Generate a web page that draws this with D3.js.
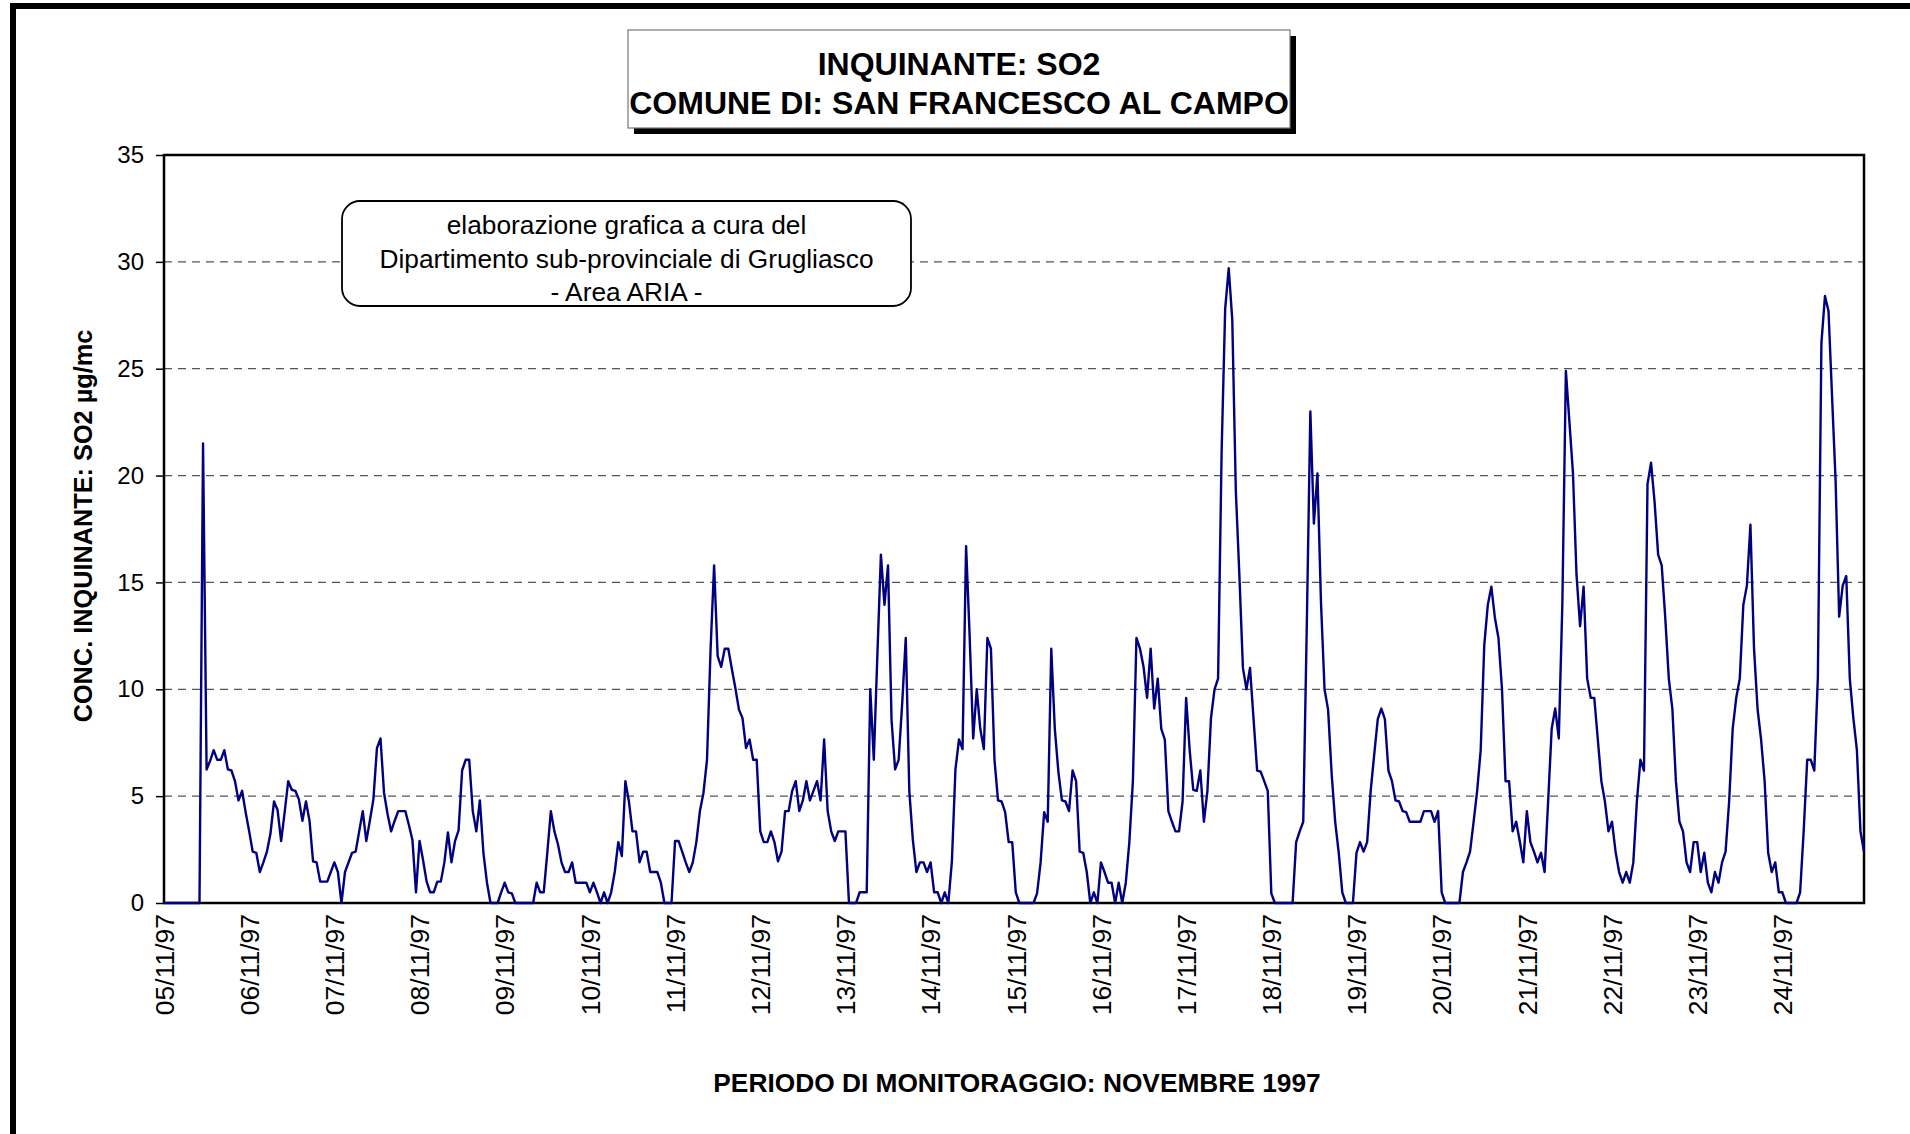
<!DOCTYPE html>
<html>
<head>
<meta charset="utf-8">
<script src="https://cdn.jsdelivr.net/npm/d3@7"></script>
<style>
  html, body { margin: 0; padding: 0; background: #fff; }
  svg text { font-family: "Liberation Sans", Arial, sans-serif; }
</style>
</head>
<body>
<div class="chart"></div>
<script>
"use strict";

// one label per day (tick every 24 hourly samples)
const dayLabels = ["05/11/97", "06/11/97", "07/11/97", "08/11/97", "09/11/97",
  "10/11/97", "11/11/97", "12/11/97", "13/11/97", "14/11/97", "15/11/97",
  "16/11/97", "17/11/97", "18/11/97", "19/11/97", "20/11/97", "21/11/97",
  "22/11/97", "23/11/97", "24/11/97"];

const yTicks = [0, 5, 10, 15, 20, 25, 30, 35];
const gridValues = [5, 10, 15, 20, 25, 30];

// hourly SO2, one row per day (µg/mc)
const so2 = [
  0,0,0,0,0,0,0,0,0,0,0,21.5,6.25,6.65,7.15,6.7,6.7,7.15,6.25,6.2,5.7,4.8,5.25,4.25,
  3.35,2.4,2.35,1.45,1.9,2.4,3.25,4.75,4.35,2.9,4.25,5.7,5.3,5.25,4.85,3.85,4.75,3.85,1.95,1.9,1.0,1.0,1.0,1.45,
  1.9,1.45,0,1.45,1.9,2.35,2.4,3.35,4.3,2.9,3.85,4.85,7.25,7.7,5.15,4.15,3.35,3.85,4.3,4.3,4.3,3.65,2.95,0.5,
  2.9,2.0,1.0,0.5,0.5,1.0,1.0,1.9,3.3,1.9,2.9,3.4,6.2,6.7,6.7,4.3,3.35,4.8,2.35,0.95,0,0,0,0.5,
  0.95,0.5,0.45,0,0,0,0,0,0,0.95,0.5,0.5,2.35,4.3,3.35,2.75,1.9,1.45,1.45,1.9,0.95,0.95,0.95,0.95,
  0.5,0.95,0.5,0,0.5,0,0.5,1.45,2.85,2.2,5.7,4.75,3.35,3.35,1.9,2.4,2.4,1.45,1.45,1.45,0.95,0,0,0,
  2.9,2.9,2.4,1.9,1.45,1.9,2.85,4.3,5.15,6.7,11.85,15.8,11.55,11.05,11.9,11.9,10.95,10.05,9.05,8.65,7.25,7.65,6.7,6.7,
  3.35,2.85,2.85,3.35,2.85,1.95,2.4,4.3,4.3,5.25,5.7,4.3,4.8,5.7,4.8,5.25,5.7,4.8,7.65,4.3,3.35,2.9,3.35,3.35,
  3.35,0,0,0,0.5,0.5,0.5,10.0,6.7,11.6,16.3,13.95,15.8,8.55,6.25,6.7,9.35,12.4,5.25,2.95,1.45,1.9,1.9,1.45,
  1.9,0.5,0.5,0,0.5,0,1.95,6.25,7.65,7.2,16.7,12.5,7.7,10.0,8.15,7.2,12.4,11.9,6.7,4.8,4.75,4.25,2.85,2.85,
  0.5,0,0,0,0,0,0.45,1.9,4.25,3.8,11.9,8.15,6.15,4.8,4.75,4.3,6.2,5.7,2.4,2.35,1.45,0,0.5,0,
  1.9,1.45,0.95,0.95,0,0.95,0,0.95,2.85,5.7,12.4,11.9,11.05,9.6,11.9,9.1,10.5,8.15,7.65,4.3,3.8,3.35,3.35,4.75,
  9.6,7.15,5.3,5.25,6.2,3.8,5.25,8.65,10.0,10.5,21.1,27.8,29.7,27.3,19.3,15.35,11.0,10.0,11.0,8.6,6.2,6.15,5.7,5.25,
  0.45,0,0,0,0,0,0,2.85,3.35,3.8,13.0,23.0,17.75,20.1,14.05,10.0,9.05,6.05,3.8,2.35,0.5,0,0,0,
  2.35,2.85,2.4,2.85,5.25,6.95,8.6,9.1,8.6,6.2,5.7,4.8,4.75,4.3,4.25,3.8,3.8,3.8,3.8,4.3,4.3,4.3,3.8,4.3,
  0.5,0,0,0,0,0,1.45,1.9,2.4,3.8,5.25,7.15,12.05,13.95,14.8,13.35,12.4,10.0,5.7,5.7,3.35,3.8,2.9,1.9,
  4.3,2.85,2.4,1.9,2.35,1.45,4.75,8.15,9.1,7.7,13.95,24.9,22.5,20.1,15.35,12.95,14.8,10.5,9.6,9.6,7.65,5.7,4.75,3.35,
  3.8,2.4,1.45,0.95,1.45,0.95,1.9,4.75,6.7,6.2,19.6,20.6,18.75,16.3,15.8,13.35,10.5,9.1,5.7,3.8,3.35,1.9,1.45,2.85,
  2.85,1.45,2.35,0.95,0.5,1.45,0.95,1.9,2.4,4.75,8.15,9.6,10.5,13.95,14.85,17.7,11.95,9.1,7.65,5.7,2.35,1.45,1.9,0.5,
  0.5,0,0,0,0,0.5,3.35,6.7,6.7,6.2,10.55,26.2,28.4,27.7,23.7,19.75,13.4,14.85,15.3,10.5,8.65,7.15,3.35,2.4
];

const W = 1910, H = 1134;
const margin = {top: 155, right: 46, bottom: 231, left: 164};
const width = W - margin.left - margin.right;
const height = H - margin.top - margin.bottom;

const svg = d3.select(".chart").append("svg")
  .attr("width", W)
  .attr("height", H)
  .style("display", "block");

svg.append("rect").attr("width", W).attr("height", H).attr("fill", "#fff");

// outer frame (runs off the right and bottom of the picture)
svg.append("rect")
  .attr("x", 13).attr("y", 6)
  .attr("width", W + 20).attr("height", H + 20)
  .attr("fill", "none")
  .attr("stroke", "#000")
  .attr("stroke-width", 6);

// title box with shadow
const tb = {x: 628, y: 30, w: 662, h: 98};
svg.append("rect")
  .attr("x", tb.x + 6).attr("y", tb.y + 6)
  .attr("width", tb.w).attr("height", tb.h)
  .attr("fill", "#000");
svg.append("rect")
  .attr("x", tb.x).attr("y", tb.y)
  .attr("width", tb.w).attr("height", tb.h)
  .attr("fill", "#fff")
  .attr("stroke", "#777")
  .attr("stroke-width", 1.2);
svg.append("text")
  .attr("x", tb.x + tb.w / 2).attr("y", 75)
  .attr("text-anchor", "middle")
  .style("font-size", "32px").style("font-weight", "bold")
  .text("INQUINANTE: SO2");
svg.append("text")
  .attr("x", tb.x + tb.w / 2).attr("y", 114)
  .attr("text-anchor", "middle")
  .style("font-size", "32px").style("font-weight", "bold")
  .text("COMUNE DI: SAN FRANCESCO AL CAMPO");

const g = svg.append("g")
  .attr("transform", "translate(" + margin.left + "," + margin.top + ")");

const x = d3.scaleLinear().domain([0, so2.length - 1]).range([0, width]);
const y = d3.scaleLinear().domain([0, 35]).range([height, 0]);

// dashed grid
g.selectAll("line.grid")
  .data(gridValues)
  .enter().append("line")
  .attr("class", "grid")
  .attr("x1", 0).attr("x2", width)
  .attr("y1", d => y(d)).attr("y2", d => y(d))
  .attr("stroke", "#555")
  .attr("stroke-width", 1.2)
  .attr("stroke-dasharray", "8,6");

// y axis
const yAxis = d3.axisLeft(y).tickValues(yTicks).tickSize(8).tickPadding(12);
g.append("g")
  .attr("class", "y axis")
  .call(yAxis)
  .call(a => a.select(".domain").remove())
  .call(a => a.selectAll("line").attr("stroke", "#000").attr("stroke-width", 1.5))
  .call(a => a.selectAll("text")
    .style("font-size", "24px").attr("fill", "#000"));

// x axis, one tick per day
const dayTicks = dayLabels.map((d, i) => i * 24);
const xAxis = d3.axisBottom(x)
  .tickValues(dayTicks)
  .tickSize(0)
  .tickFormat((d, i) => dayLabels[i]);
g.append("g")
  .attr("class", "x axis")
  .attr("transform", "translate(0," + height + ")")
  .call(xAxis)
  .call(a => a.select(".domain").remove())
  .call(a => a.selectAll("text")
    .style("font-size", "26.5px")
    .attr("fill", "#000")
    .style("text-anchor", "end")
    .attr("transform", "rotate(-90)")
    .attr("x", -11)
    .attr("y", 0)
    .attr("dy", "0.35em"));

// plot frame
g.append("rect")
  .attr("width", width).attr("height", height)
  .attr("fill", "none")
  .attr("stroke", "#000")
  .attr("stroke-width", 2.5);

// annotation box
const ab = {x: 342, y: 201, w: 569, h: 105};
svg.append("rect")
  .attr("x", ab.x).attr("y", ab.y)
  .attr("width", ab.w).attr("height", ab.h)
  .attr("rx", 18).attr("ry", 18)
  .attr("fill", "#fff")
  .attr("stroke", "#000")
  .attr("stroke-width", 1.8);
const noteLines = ["elaborazione grafica a cura del",
  "Dipartimento sub-provinciale di Grugliasco", "- Area ARIA -"];
svg.selectAll("text.note")
  .data(noteLines)
  .enter().append("text")
  .attr("class", "note")
  .attr("x", ab.x + ab.w / 2)
  .attr("y", (d, i) => 234 + i * 33.5)
  .attr("text-anchor", "middle")
  .style("font-size", "26.3px")
  .text(d => d);

// data line
const line = d3.line()
  .x((d, i) => x(i))
  .y(d => y(d));
g.append("path")
  .datum(so2)
  .attr("fill", "none")
  .attr("stroke", "#000080")
  .attr("stroke-width", 2.4)
  .attr("stroke-linejoin", "round")
  .attr("d", line);

// axis titles
svg.append("text")
  .attr("x", 1017).attr("y", 1092)
  .attr("text-anchor", "middle")
  .style("font-size", "26.3px").style("font-weight", "bold")
  .text("PERIODO DI MONITORAGGIO: NOVEMBRE 1997");
svg.append("text")
  .attr("transform", "translate(92,526) rotate(-90)")
  .attr("text-anchor", "middle")
  .style("font-size", "25.3px").style("font-weight", "bold")
  .text("CONC. INQUINANTE: SO2 µg/mc");
</script>
</body>
</html>
